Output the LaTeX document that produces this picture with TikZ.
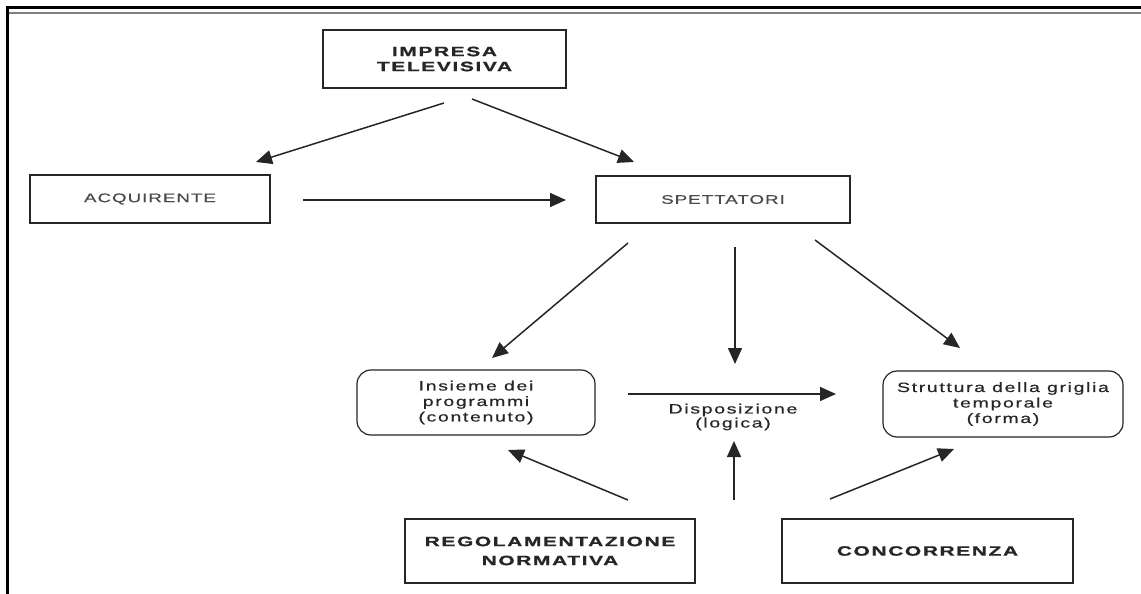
\documentclass[tikz,border=0pt]{standalone}
\usepackage{fontspec}
\setmainfont{Liberation Sans}
\newfontfamily\bwfont{Liberation Sans}[FakeStretch=1.55,LetterSpace=12,FakeBold=1.2]
\newfontfamily\capfont{Liberation Sans}[FakeStretch=1.5,LetterSpace=8,FakeBold=0.4]
\newfontfamily\lowfont{Liberation Sans}[FakeStretch=1.45,LetterSpace=12,FakeBold=0.6]
\usetikzlibrary{arrows.meta}
\definecolor{ink}{HTML}{262626}
\definecolor{greyink}{HTML}{4A4A4A}
\begin{document}
\begin{tikzpicture}[x=1pt,y=-1pt,
  boldbox/.style={draw=ink,line width=1.3pt,rectangle,inner sep=0pt,align=center,text=ink,
     font=\bwfont\bfseries\fontsize{13.5}{15}\selectfont},
  capbox/.style={draw=ink,line width=1.2pt,rectangle,inner sep=0pt,align=center,text=greyink,
     font=\capfont\fontsize{12.5}{14}\selectfont},
  roundbox/.style={draw=ink,line width=1.2pt,rectangle,rounded corners=14pt,inner sep=0pt,align=center,text=ink,
     font=\lowfont\fontsize{13.5}{15.5}\selectfont},
  plaintext/.style={inner sep=0pt,align=center,text=ink,font=\lowfont\fontsize{13.5}{14}\selectfont},
  conn/.style={draw=ink,line width=1.5pt,-{Triangle[length=16pt,width=14pt]}}]
\useasboundingbox (0,0) rectangle (1141,594);
% frame
\draw[black,line width=3pt] (7,594) -- (7,8) -- (1141,8);
\draw[gray,line width=1.6pt] (8.5,13) -- (1141,13);
% nodes
\node[boldbox,minimum width=243pt,minimum height=58pt] (imp) at (444.5,59) {IMPRESA\\TELEVISIVA};
\node[capbox,minimum width=240pt,minimum height=48pt] (acq) at (150,199) {ACQUIRENTE};
\node[capbox,minimum width=254pt,minimum height=47pt] (spet) at (723,199.5) {SPETTATORI};
\node[roundbox,minimum width=238pt,minimum height=65pt] (ins) at (476,402.5) {Insieme dei\\programmi\\(contenuto)};
\node[roundbox,minimum width=240pt,minimum height=66pt] (str) at (1003,404) {Struttura della griglia\\temporale\\(forma)};
\node[plaintext] (disp) at (733,417) {Disposizione\\(logica)};
\node[boldbox,minimum width=290pt,minimum height=64pt,font=\bwfont\bfseries\fontsize{13.5}{19}\selectfont] (reg) at (550,551) {REGOLAMENTAZIONE\\NORMATIVA};
\node[boldbox,minimum width=291pt,minimum height=64pt] (conc) at (927.5,551) {CONCORRENZA};
% connector ends
\coordinate (impL) at (444,103);
\coordinate (acqT) at (256,162);
\coordinate (impR) at (472,99);
\coordinate (spetT) at (634,162);
\coordinate (acqR) at (303,200);
\coordinate (spetL) at (566,200);
\coordinate (spetA) at (628,243);
\coordinate (insT) at (492,358);
\coordinate (spetB) at (735,247);
\coordinate (dispT) at (735,364);
\coordinate (spetC) at (815,240);
\coordinate (strT) at (960,348);
\coordinate (insR) at (628,394);
\coordinate (strL) at (836,394);
\coordinate (regT) at (628,500);
\coordinate (insB) at (508,450);
\coordinate (midB) at (734,500);
\coordinate (dispB) at (734,441);
\coordinate (concT) at (830,499);
\coordinate (strB) at (954,449);
% connectors
\draw[conn] (impL) -- (acqT);
\draw[conn] (impR) -- (spetT);
\draw[conn] (acqR) -- (spetL);
\draw[conn] (spetA) -- (insT);
\draw[conn] (spetB) -- (dispT);
\draw[conn] (spetC) -- (strT);
\draw[conn] (insR) -- (strL);
\draw[conn] (regT) -- (insB);
\draw[conn] (midB) -- (dispB);
\draw[conn] (concT) -- (strB);
\end{tikzpicture}
\end{document}
